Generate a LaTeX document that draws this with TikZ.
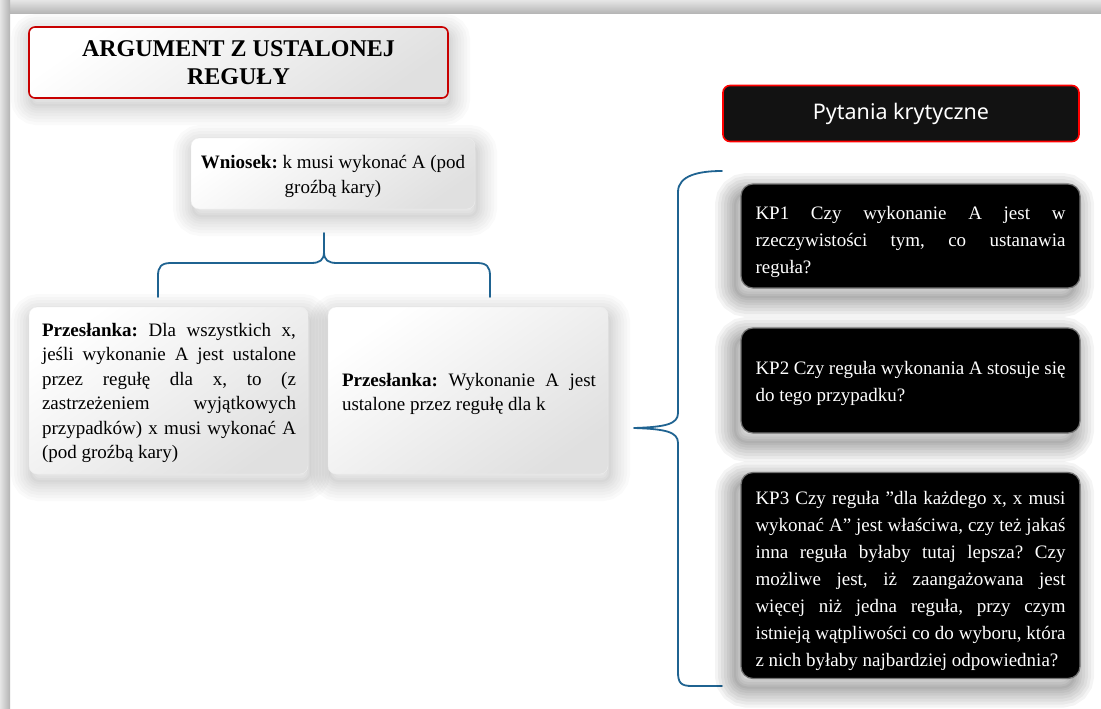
\documentclass[tikz,border=0pt]{standalone}
\usepackage{fontspec}
\setmainfont{Liberation Serif}
\newfontfamily\uisans{Noto Sans}
\frenchspacing
\definecolor{bracecol}{HTML}{1F6391}
\definecolor{titlered}{HTML}{C80000}
\tikzset{
  shl/.style args={#1/#2/#3/#4}{preaction={draw=black, draw opacity=#2, line width=#1,
      transform canvas={xshift=#3, yshift=#4}}},
  lightshadow/.style={shl={40pt/0.018/2pt/-7pt}, shl={34pt/0.018/2pt/-7pt}, shl={28pt/0.018/2pt/-7pt},
    shl={22pt/0.018/2pt/-7pt}, shl={16pt/0.02/2pt/-7pt}, shl={11pt/0.02/2pt/-7pt}, shl={6pt/0.02/2pt/-7pt}, shl={2pt/0.02/2pt/-7pt}},
  darkshadow/.style={shl={40pt/0.045/-6pt/-9pt}, shl={34pt/0.045/-6pt/-9pt}, shl={28pt/0.045/-6pt/-9pt},
    shl={22pt/0.045/-6pt/-9pt}, shl={16pt/0.045/-6pt/-9pt}, shl={11pt/0.045/-6pt/-9pt}, shl={6pt/0.045/-6pt/-9pt}, shl={2pt/0.045/-6pt/-9pt}},
  lightbox/.style={lightshadow, rounded corners=8pt, draw=black!7, top color=white, bottom color=black!12, shading angle=35, inner sep=0pt},
  titlebox/.style={lightbox, rounded corners=6pt, draw=titlered, line width=1.6pt},
  headbox/.style={rounded corners=7pt, fill=black!93, draw=red, line width=1.6pt, inner sep=0pt},
  kpbox/.style={darkshadow, rounded corners=12pt, fill=black, draw=black!55, line width=1.2pt, inner sep=0pt},
  bodytxt/.style={inner sep=0pt, font={\fontsize{19}{24.5}\selectfont}, align=justify},
  kptxt/.style={inner sep=0pt, text=white, font={\fontsize{19}{27}\selectfont}, align=justify, text width=310pt},
  bracepath/.style={draw=bracecol, line width=1.8pt, line cap=round, line join=round}
}
\begin{document}
\begin{tikzpicture}[x=1pt,y=-1pt]
\useasboundingbox (0,0) rectangle (1101,709);
\fill[white] (0,0) rectangle (1101,709);
\shade[top color=black!10, bottom color=black!30] (0,0) rectangle (1101,14);
\shade[left color=black!10, right color=black!30] (0,0) rectangle (10,709);

% title
\node[titlebox, minimum width=419pt, minimum height=71pt] (title) at (238.5,62.5) {};
\node[inner sep=0pt, align=center, font={\fontsize{24}{28}\selectfont\bfseries}] (titlet) at (title.center) {ARGUMENT Z USTALONEJ\\REGUŁY};

% conclusion
\node[lightbox, minimum width=284pt, minimum height=71pt] (wn) at (333,173.5) {};
\node[inner sep=0pt, align=center, font={\fontsize{19}{25}\selectfont}] (wnt) at (333,176) {\textbf{Wniosek:} k musi wykonać A (pod\\groźbą kary)};

% premises
\node[lightbox, minimum width=279pt, minimum height=167pt] (p1) at (168.5,390.5) {};
\node[bodytxt, text width=254pt] (p1t) at (169,393) {\textbf{Przesłanka:} Dla wszystkich x,\linebreak jeśli wykonanie A jest ustalone\linebreak przez regułę dla x, to (z\linebreak zastrzeżeniem wyjątkowych\linebreak przypadków) x musi wykonać A\linebreak (pod groźbą kary)};
\node[lightbox, minimum width=280pt, minimum height=167pt] (p2) at (468,390.5) {};
\node[bodytxt, text width=254pt] (p2t) at (469,394) {\textbf{Przesłanka:} Wykonanie A jest\linebreak ustalone przez regułę dla k};

% braces
\coordinate (hbL) at (158,297);
\coordinate (hbR) at (490,297);
\coordinate (hbT) at (324,233);
\draw[bracepath] (hbL) -- (158,276) .. controls (158,267) and (161,263) .. (171,263) -- (311,263)
  .. controls (320,263) and (324,260) .. (324,252) -- (hbT) -- (324,252)
  .. controls (324,260) and (328,263) .. (337,263) -- (477,263)
  .. controls (487,263) and (490,267) .. (490,276) -- (hbR);

\coordinate (vbTop) at (722,171);
\coordinate (vbBot) at (722,686);
\coordinate (vbTip) at (634,428);
\draw[bracepath] (vbTop) .. controls (700,171) and (678,175) .. (678,192) -- (678,413)
  .. controls (678,424) and (666,427) .. (vbTip)
  .. controls (666,429) and (678,432) .. (678,443) -- (678,672)
  .. controls (678,683) and (681,686) .. (692,686) -- (vbBot);

% critical questions
\node[headbox, minimum width=356pt, minimum height=56pt] (head) at (901,113.5) {};
\node[inner sep=0pt, text=white, font={\uisans\fontsize{21.5}{26}\selectfont}] (headt) at (head.center) {Pytania krytyczne};

\node[kpbox, minimum width=339pt, minimum height=104pt] (kp1) at (910.5,236) {};
\node[kptxt] (kp1t) at (910.5,242) {KP1 Czy wykonanie A jest w\linebreak rzeczywistości tym, co ustanawia\linebreak reguła?};

\node[kpbox, minimum width=339pt, minimum height=105pt] (kp2) at (910.5,380.5) {};
\node[kptxt] (kp2t) at (910.5,383) {KP2 Czy reguła wykonania A stosuje się\linebreak do tego przypadku?};

\node[kpbox, minimum width=339pt, minimum height=206pt] (kp3) at (910.5,575.5) {};
\node[kptxt] (kp3t) at (910.5,581) {KP3 Czy reguła ”dla każdego x, x musi\linebreak wykonać A” jest właściwa, czy też jakaś\linebreak inna reguła byłaby tutaj lepsza? Czy\linebreak możliwe jest, iż zaangażowana jest\linebreak więcej niż jedna reguła, przy czym\linebreak istnieją wątpliwości co do wyboru, która\linebreak z nich byłaby najbardziej odpowiednia?};
\end{tikzpicture}
\end{document}
